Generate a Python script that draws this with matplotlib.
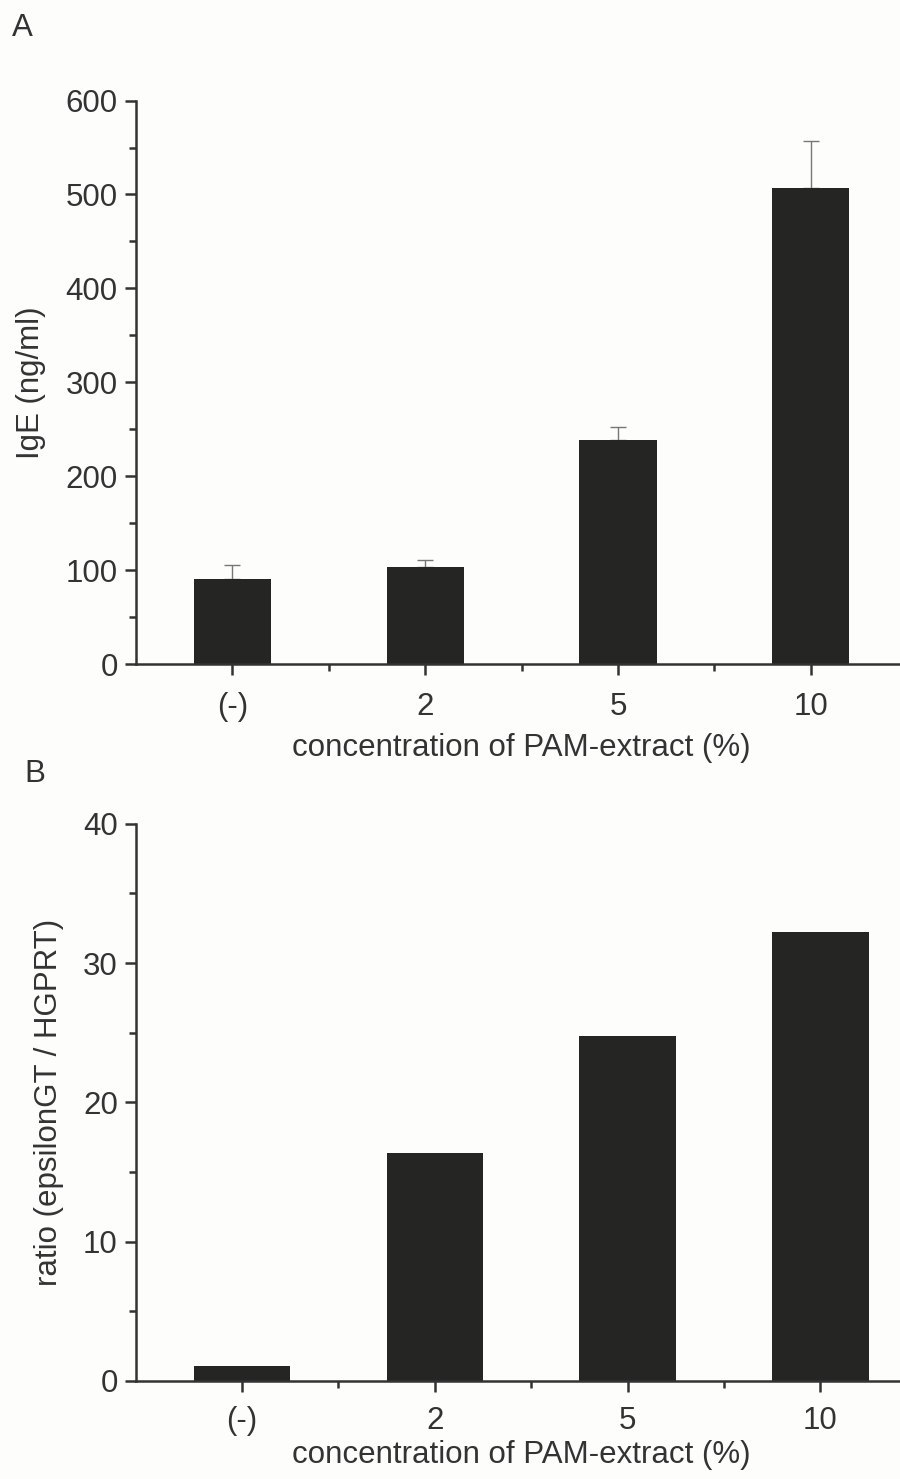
import numpy as np
import matplotlib
matplotlib.use("Agg")
import matplotlib.pyplot as plt
from matplotlib.ticker import MultipleLocator, FixedLocator

plt.rcParams['font.family'] = ['Liberation Sans', 'DejaVu Sans']

# data
categories = ["(-)", "2", "5", "10"]
ige_vals = [90.5, 103, 239, 507]
ige_err = [15, 8, 13, 50]
ratio_vals = [1.05, 16.4, 24.8, 32.2]

xlabel = "concentration of PAM-extract (%)"
bar_col = "#252623"
ax_col = "#333333"
bg = "#fdfdfb"
fs = 22.5

fig = plt.figure(figsize=(9, 14.79), dpi=100)

def style_axis(ax, xpad=12):
    ax.set_facecolor("none")
    for s in ["top", "right"]:
        ax.spines[s].set_visible(False)
    for s in ["left", "bottom"]:
        ax.spines[s].set_linewidth(1.8)
        ax.spines[s].set_color(ax_col)
    ax.tick_params(which="major", length=8, width=1.8, color=ax_col,
                   labelsize=fs, labelcolor=ax_col, direction="out")
    ax.tick_params(axis="x", which="major", pad=xpad)
    ax.tick_params(axis="y", which="major", pad=5)
    ax.tick_params(which="minor", length=5, width=1.8, color=ax_col, direction="out")
    ax.xaxis.set_minor_locator(FixedLocator([0.5, 1.5, 2.5]))

#
x = np.arange(len(categories))
axA = fig.add_axes([0.151, 0.551, 0.857, 0.381])
axA.bar(x, ige_vals, width=0.4, color=bar_col, zorder=2)
axA.errorbar(x, ige_vals, yerr=[np.zeros(len(ige_err)), ige_err], fmt="none",
             ecolor="#777777", elinewidth=1.0, capsize=6, capthick=1.0, zorder=1)
axA.set_xlim(-0.5, 3.5)
axA.set_ylim(0, 600)
axA.yaxis.set_major_locator(MultipleLocator(100))
axA.yaxis.set_minor_locator(MultipleLocator(50))
axA.set_xticks(x)
axA.set_xticklabels(categories)
axA.set_ylabel("IgE (ng/ml)", fontsize=fs, color=ax_col, labelpad=14)
axA.set_xlabel(xlabel, fontsize=fs, color=ax_col, labelpad=8)
style_axis(axA)
fig.text(0.013, 0.981, "A", fontsize=fs, color=ax_col, va="center")

#
axB = fig.add_axes([0.151, 0.0663, 0.857, 0.3767])
axB.bar(x, ratio_vals, width=0.5, color=bar_col, zorder=2)
axB.set_xlim(-0.55, 3.45)
axB.set_ylim(0, 40)
axB.yaxis.set_major_locator(MultipleLocator(10))
axB.yaxis.set_minor_locator(MultipleLocator(5))
axB.set_xticks(x)
axB.set_xticklabels(categories)
axB.set_ylabel("ratio (epsilonGT / HGPRT)", fontsize=fs, color=ax_col, labelpad=14)
axB.set_xlabel(xlabel, fontsize=fs, color=ax_col, labelpad=3)
style_axis(axB, xpad=10)
fig.text(0.027, 0.477, "B", fontsize=fs, color=ax_col, va="center")

fig.savefig("out.png", dpi=100, facecolor=bg)
